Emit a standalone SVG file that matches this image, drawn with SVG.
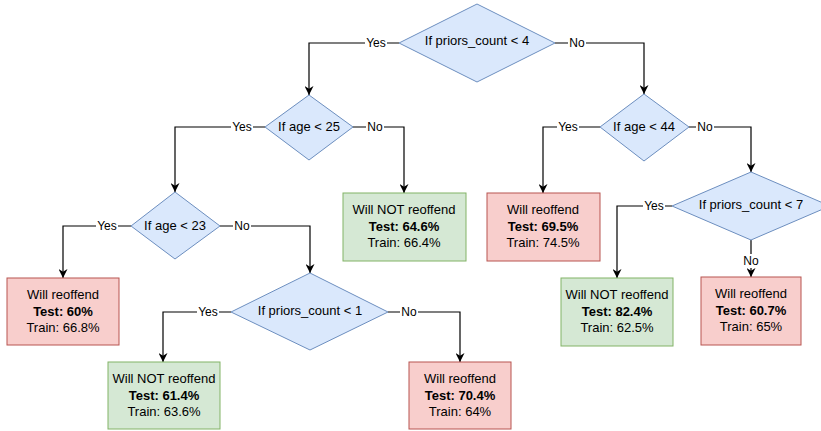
<svg xmlns="http://www.w3.org/2000/svg" width="821" height="431" viewBox="0 0 821 431">
<defs>
<marker id="arr" viewBox="0 0 10 10" refX="10" refY="5" markerWidth="9" markerHeight="9" markerUnits="userSpaceOnUse" orient="auto">
<path d="M0,0 L10,5 L0,10 L3,5 Z" fill="#000"/>
</marker>
</defs>
<style>
text{font-family:"Liberation Sans",Arial,Helvetica,sans-serif;font-size:13px;fill:#000;text-anchor:middle}
.l{font-size:12px}
.b{font-weight:bold}
.dec{fill:#dae8fc;stroke:#6c8ebf;stroke-width:1}
.g{fill:#d5e8d4;stroke:#82b366;stroke-width:1}
.r{fill:#f8cecc;stroke:#b85450;stroke-width:1}
.e{fill:none;stroke:#000;stroke-width:1.2;marker-end:url(#arr)}
.lb{fill:#fff}
</style>
<rect width="821" height="431" fill="#fff"/>
<g id="connectors">
<path class="e" d="M399,43 H309 V95"/>
<path class="e" d="M555,43 H644 V94"/>
<path class="e" d="M265,127 H175 V192"/>
<path class="e" d="M353,127 H404 V193"/>
<path class="e" d="M131,226 H63 V278"/>
<path class="e" d="M220,226 H310 V273"/>
<path class="e" d="M231,312 H163 V362"/>
<path class="e" d="M388,312 H460 V362"/>
<path class="e" d="M600,127 H543 V193"/>
<path class="e" d="M689,127 H751 V172"/>
<path class="e" d="M672,206 H617 V278"/>
<path class="e" d="M751,240 V277"/>
<rect class="lb" x="365" y="36" width="22" height="14"/><text class="l" x="376" y="47">Yes</text>
<rect class="lb" x="568" y="36" width="18" height="14"/><text class="l" x="577" y="47">No</text>
<rect class="lb" x="231" y="120" width="22" height="14"/><text class="l" x="242" y="131">Yes</text>
<rect class="lb" x="366" y="120" width="18" height="14"/><text class="l" x="375" y="131">No</text>
<rect class="lb" x="96" y="219" width="22" height="14"/><text class="l" x="107" y="230">Yes</text>
<rect class="lb" x="233" y="219" width="18" height="14"/><text class="l" x="242" y="230">No</text>
<rect class="lb" x="197" y="305" width="22" height="14"/><text class="l" x="208" y="316">Yes</text>
<rect class="lb" x="400" y="305" width="18" height="14"/><text class="l" x="409" y="316">No</text>
<rect class="lb" x="557" y="120" width="22" height="14"/><text class="l" x="568" y="131">Yes</text>
<rect class="lb" x="696" y="120" width="18" height="14"/><text class="l" x="705" y="131">No</text>
<rect class="lb" x="643" y="199" width="22" height="14"/><text class="l" x="654" y="210">Yes</text>
<rect class="lb" x="742" y="254" width="18" height="14"/><text class="l" x="751" y="265">No</text>
</g>
<g id="d1"><polygon class="dec" points="477,4 555,43 477,82 399,43"/><text x="477" y="45">If priors_count &lt; 4</text></g>
<g id="d2"><polygon class="dec" points="309,95 353,127 309,160 265,127"/><text x="309" y="131">If age &lt; 25</text></g>
<g id="d3"><polygon class="dec" points="175,192 220,226 175,259 131,226"/><text x="175" y="230">If age &lt; 23</text></g>
<g id="d4"><polygon class="dec" points="310,273 388,312 310,350 231,312"/><text x="310" y="315">If priors_count &lt; 1</text></g>
<g id="d5"><polygon class="dec" points="644,94 689,127 644,161 600,127"/><text x="644" y="131">If age &lt; 44</text></g>
<g id="d6"><polygon class="dec" points="751,172 830,206 751,240 672,206"/><text x="751" y="209">If priors_count &lt; 7</text></g>
<g id="b1"><rect class="g" x="343" y="193" width="123" height="68"/><text x="404" y="214">Will NOT reoffend</text><text class="b" x="404" y="231">Test: 64.6%</text><text x="404" y="247">Train: 66.4%</text></g>
<g id="b2"><rect class="r" x="7" y="278" width="112" height="67"/><text x="63" y="299">Will reoffend</text><text class="b" x="63" y="316">Test: 60%</text><text x="63" y="332">Train: 66.8%</text></g>
<g id="b3"><rect class="g" x="108" y="362" width="112" height="67"/><text x="164" y="383">Will NOT reoffend</text><text class="b" x="164" y="400">Test: 61.4%</text><text x="164" y="416">Train: 63.6%</text></g>
<g id="b4"><rect class="r" x="409" y="362" width="102" height="67"/><text x="460" y="383">Will reoffend</text><text class="b" x="460" y="400">Test: 70.4%</text><text x="460" y="416">Train: 64%</text></g>
<g id="b5"><rect class="r" x="487" y="193" width="113" height="68"/><text x="543" y="214">Will reoffend</text><text class="b" x="543" y="231">Test: 69.5%</text><text x="543" y="247">Train: 74.5%</text></g>
<g id="b6"><rect class="g" x="561" y="278" width="112" height="68"/><text x="617" y="299">Will NOT reoffend</text><text class="b" x="617" y="316">Test: 82.4%</text><text x="617" y="332">Train: 62.5%</text></g>
<g id="b7"><rect class="r" x="701" y="277" width="100" height="68"/><text x="751" y="298">Will reoffend</text><text class="b" x="751" y="315">Test: 60.7%</text><text x="751" y="331">Train: 65%</text></g>
</svg>
